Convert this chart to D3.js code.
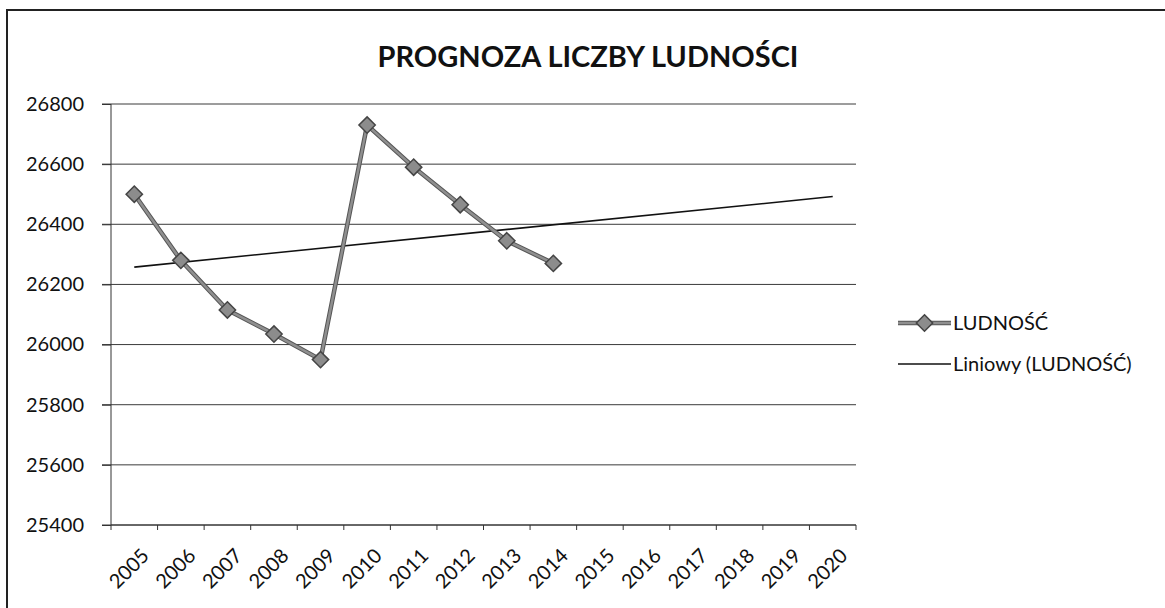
<!DOCTYPE html>
<html lang="pl">
<head>
  <meta charset="UTF-8" />
  <title>Prognoza liczby ludności</title>
  <style>
    body {
      margin: 0;
      background: #fff;
      font-family: 'Lato', 'Liberation Sans', sans-serif;
    }
    .grid line {
      stroke: #3a3a3a;
      stroke-width: 1px;
    }
    .axis text {
      font: 20px 'Lato', sans-serif;
      fill: #111;
    }
    .axis path, .axis line {
      stroke: #333;
    }
    .series-edge {
      fill: none;
      stroke: #555;
      stroke-width: 4.5px;
    }
    .series {
      fill: none;
      stroke: #8f8f8f;
      stroke-width: 2.5px;
    }
    .trend {
      fill: none;
      stroke: #111;
      stroke-width: 1.6px;
    }
    .marker {
      fill: #8c8c8c;
      stroke: #444;
      stroke-width: 1.5px;
    }
    .legend text {
      font: 20px 'Lato', sans-serif;
      fill: #111;
    }
  </style>
</head>
<body>
  <svg id="chart" width="1165" height="608"></svg>

  <script src="https://d3js.org/d3.v7.min.js"></script>
  <script>
    // dane
    const years = ["2005", "2006", "2007", "2008", "2009", "2010", "2011", "2012",
                   "2013", "2014", "2015", "2016", "2017", "2018", "2019", "2020"];
    const ludnoscYears = ["2005", "2006", "2007", "2008", "2009", "2010", "2011", "2012", "2013", "2014"];
    const ludnosc = [26500, 26280, 26115, 26035, 25950, 26730, 26590, 26465, 26345, 26270];
    const yTicks = [25400, 25600, 25800, 26000, 26200, 26400, 26600, 26800];
    const legendLabels = ["LUDNOŚĆ", "Liniowy (LUDNOŚĆ)"];
    const title = "PROGNOZA LICZBY LUDNOŚCI";

    const svg = d3.select("#chart");
    const W = 1165, H = 608;
    const plot = { left: 111, right: 856, top: 104, bottom: 525 };

    // ramka wykresu
    svg.append("rect")
      .attr("x", 7).attr("y", 10)
      .attr("width", W + 10).attr("height", H + 10)
      .attr("fill", "none").attr("stroke", "#222").attr("stroke-width", 2);

    svg.append("text")
      .attr("x", 588).attr("y", 67)
      .attr("text-anchor", "middle")
      .style("font", "bold 29px 'Lato', sans-serif")
      .style("fill", "#111")
      .text(title);

    const x = d3.scaleBand().domain(years).range([plot.left, plot.right]);
    const y = d3.scaleLinear().domain([25400, 26800]).range([plot.bottom, plot.top]);

    // linie siatki
    svg.append("g").attr("class", "grid")
      .selectAll("line").data(yTicks).join("line")
      .attr("x1", plot.left - 9).attr("x2", plot.right)
      .attr("y1", d => y(d)).attr("y2", d => y(d));

    // oś Y
    const yAxis = svg.append("g").attr("class", "axis")
      .attr("transform", `translate(${plot.left},0)`)
      .call(d3.axisLeft(y).tickValues(yTicks).tickSize(9).tickPadding(18).tickFormat(d3.format("d")));
    yAxis.select(".domain").attr("d", `M0,${plot.top}V${plot.bottom}`);

    // oś X - znaczniki na granicach kategorii
    const xAxis = svg.append("g").attr("class", "axis")
      .attr("transform", `translate(0,${plot.bottom})`);
    xAxis.append("line")
      .attr("x1", plot.left).attr("x2", plot.right)
      .attr("stroke", "#333");
    xAxis.selectAll(".tk").data(years.concat(["end"])).join("line")
      .attr("class", "tk")
      .attr("x1", (d, i) => plot.left + i * x.bandwidth())
      .attr("x2", (d, i) => plot.left + i * x.bandwidth())
      .attr("y1", 0).attr("y2", 5)
      .attr("stroke", "#333");
    xAxis.selectAll(".lbl").data(years).join("text")
      .attr("class", "lbl")
      .attr("text-anchor", "end")
      .attr("transform", d => `translate(${x(d) + x.bandwidth() / 2 + 6},${22}) rotate(-45)`)
      .attr("dy", "0.71em")
      .text(d => d);

    const cx = d => x(d) + x.bandwidth() / 2;

    // linia trendu (regresja liniowa, jak w Excelu)
    const n = ludnosc.length;
    const xs = d3.range(1, n + 1);
    const mx = d3.mean(xs), my = d3.mean(ludnosc);
    const slope = d3.sum(xs, (v, i) => (v - mx) * (ludnosc[i] - my)) / d3.sum(xs, v => (v - mx) ** 2);
    const intercept = my - slope * mx;
    const trendPts = [years[0], years[years.length - 1]].map(yr => ({
      yr, v: intercept + slope * (years.indexOf(yr) + 1)
    }));

    svg.append("path").attr("class", "trend")
      .attr("d", d3.line().x(d => cx(d.yr)).y(d => y(d.v))(trendPts));

    const pts = ludnoscYears.map((yr, i) => ({ yr, v: ludnosc[i] }));
    const seriesLine = d3.line().x(d => cx(d.yr)).y(d => y(d.v));
    svg.append("path").attr("class", "series-edge").attr("d", seriesLine(pts));
    svg.append("path").attr("class", "series").attr("d", seriesLine(pts));

    const diamond = d3.symbol().type(d3.symbolDiamond2).size(170);
    svg.selectAll(".marker").data(pts).join("path")
      .attr("class", "marker")
      .attr("transform", d => `translate(${cx(d.yr)},${y(d.v)})`)
      .attr("d", diamond);

    // legenda
    const legend = svg.append("g").attr("class", "legend");
    const lx1 = 898, lx2 = 951;
    const ly = [323, 364];
    legend.append("line").attr("class", "series-edge")
      .attr("x1", lx1).attr("x2", lx2).attr("y1", ly[0]).attr("y2", ly[0]);
    legend.append("line").attr("class", "series")
      .attr("x1", lx1).attr("x2", lx2).attr("y1", ly[0]).attr("y2", ly[0]);
    legend.append("path").attr("class", "marker")
      .attr("transform", `translate(${(lx1 + lx2) / 2},${ly[0]})`)
      .attr("d", diamond);
    legend.append("line").attr("class", "trend")
      .attr("x1", lx1).attr("x2", lx2).attr("y1", ly[1]).attr("y2", ly[1]);
    legend.selectAll("text").data(legendLabels).join("text")
      .attr("x", lx2 + 2).attr("y", (d, i) => ly[i])
      .attr("dy", "0.35em")
      .text(d => d);
  </script>
</body>
</html>
